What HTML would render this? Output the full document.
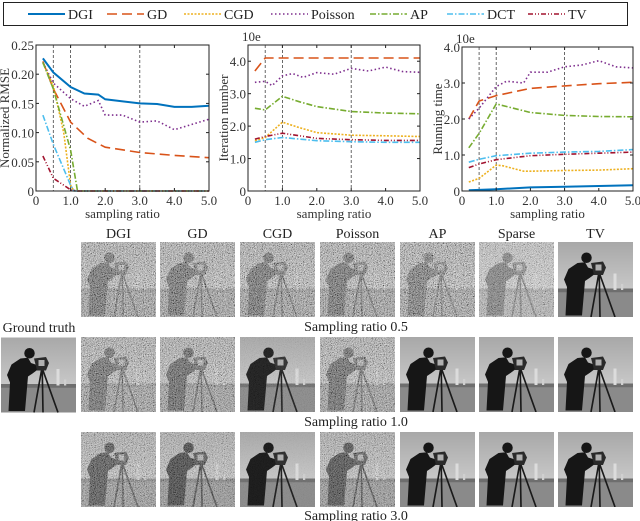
<!DOCTYPE html>
<html><head><meta charset="utf-8">
<style>
body{margin:0;background:#fff;}
svg{display:block;font-family:'Liberation Serif','DejaVu Serif',serif;}
</style></head>
<body>
<svg id="fig" width="640" height="521" viewBox="0 0 640 521" xmlns="http://www.w3.org/2000/svg">
<defs>
<filter id="noise" x="0" y="0" width="100%" height="100%">
<feTurbulence type="fractalNoise" baseFrequency="1.1" numOctaves="2" seed="3"/>
<feColorMatrix type="matrix" values="0.33 0.33 0.33 0 0 0.33 0.33 0.33 0 0 0.33 0.33 0.33 0 0 0 0 0 0 1"/>
<feComponentTransfer><feFuncR type="linear" slope="3" intercept="-1.0"/><feFuncG type="linear" slope="3" intercept="-1.0"/><feFuncB type="linear" slope="3" intercept="-1.0"/></feComponentTransfer>
</filter>
<linearGradient id="sky" x1="0" y1="0" x2="0" y2="1"><stop offset="0" stop-color="#a8a8a8"/><stop offset="1" stop-color="#c8c8c8"/></linearGradient>
<symbol id="cam" viewBox="0 0 100 100">
<rect width="100" height="64" fill="url(#sky)"/>
<rect y="62" width="100" height="38" fill="#8a8a8a"/>
<rect y="62" width="100" height="5" fill="#6e6e6e"/>
<rect x="74" y="42" width="4" height="22" fill="#dcdcdc"/>
<rect x="84" y="56" width="3" height="8" fill="#d0d0d0"/>
<path d="M10 98 L12 60 L8 50 L14 36 L26 28 L36 27 L40 34 L46 36 L50 42 L42 48 L36 52 L32 98 Z" fill="#161616"/>
<circle cx="38" cy="21" r="7" fill="#161616"/>
<path d="M44 28 L60 26 L64 34 L60 44 L48 44 Z" fill="#2a2a2a"/>
<rect x="50" y="30" width="8" height="8" fill="#b0b0b0"/>
<path d="M54 44 L44 100 M55 44 L56 100 M56 44 L76 100" stroke="#1a1a1a" stroke-width="2.2" fill="none"/>
</symbol>
</defs>
<g id="charts"></g>
<g id="imgs"></g>
</svg>
<script>
const NS='http://www.w3.org/2000/svg';
const svg=document.getElementById('fig');
const chartsG=document.getElementById('charts');
const imgsG=document.getElementById('imgs');
function mk(tag,attrs,parent){const e=document.createElementNS(NS,tag);for(const k in attrs)e.setAttribute(k,attrs[k]);(parent||svg).appendChild(e);return e;}

// ---- data ----
const seriesNames=['DGI','GD','CGD','Poisson','AP','DCT','TV'];
const colors={DGI:'#0072BD',GD:'#D95319',CGD:'#EDB120',Poisson:'#7E2F8E',AP:'#77AC30',DCT:'#4DBEEE',TV:'#A2142F'};
const dashes={DGI:'',GD:'10,5',CGD:'2,1.5',Poisson:'1.5,2.5',AP:'6,2,1.5,2',DCT:'6,2,1.5,2',TV:'5,2,1,2,1,2'};
const xTickVals=[0,1,2,3,4,5];
const xTickLabels=['0','1.0','2.0','3.0','4.0','5.0'];
const vLines=[0.5,1,3];

const rmseX={DGI:[0.2,0.5,1,1.4,1.8,2,3,3.5,4,4.5,5],GD:[0.2,0.5,1,1.5,2,3,4,5],CGD:[0.2,0.5,0.8,1.0,1.1,5],Poisson:[0.2,0.5,1,1.4,1.8,2,2.5,3,3.5,4,5],AP:[0.2,0.5,1.0,1.2,5],DCT:[0.2,0.5,1.0,1.1,5],TV:[0.2,0.5,1,1.2,5]};
const rmseY={DGI:[0.227,0.203,0.178,0.167,0.165,0.157,0.150,0.149,0.144,0.144,0.146],GD:[0.222,0.175,0.118,0.090,0.075,0.066,0.061,0.057],CGD:[0.22,0.18,0.1,0.01,0,0],Poisson:[0.22,0.185,0.158,0.145,0.155,0.130,0.130,0.118,0.12,0.105,0.123],AP:[0.22,0.175,0.07,0,0],DCT:[0.13,0.08,0.01,0,0],TV:[0.06,0.022,0.002,0,0]};
const rmseTicks=[0,0.05,0.1,0.15,0.2,0.25];
const rmseTickLabels=['0','0.05','0.10','0.15','0.20','0.25'];

const iterX={GD:[0.2,0.5,1,2,3,4,5],Poisson:[0.2,0.5,0.7,1,1.3,1.6,2,2.5,3,3.5,4,4.5,5],AP:[0.2,0.5,1,1.5,2,3,4,5],CGD:[0.2,0.5,1,1.5,2,3,4,5],TV:[0.2,0.5,1,2,3,4,5],DCT:[0.2,0.5,1,2,3,4,5]};
const iterY={GD:[3.7,4.1,4.1,4.1,4.1,4.1,4.1],Poisson:[3.35,3.38,3.25,3.55,3.62,3.5,3.65,3.6,3.78,3.7,3.82,3.68,3.66],AP:[2.55,2.5,2.92,2.75,2.6,2.45,2.4,2.38],CGD:[1.55,1.65,2.12,1.95,1.8,1.72,1.7,1.68],TV:[1.6,1.68,1.78,1.62,1.58,1.56,1.56],DCT:[1.5,1.58,1.65,1.55,1.52,1.5,1.5]};
const iterTicks=[0,1,2,3,4];
const iterTickLabels=['0','1.0','2.0','3.0','4.0'];

const timeX={Poisson:[0.2,0.5,1,1.3,1.8,2,2.5,3,3.5,4,4.5,5],GD:[0.2,0.5,1,2,3,4,5],AP:[0.2,0.5,1,1.5,2,3,4,5],DCT:[0.2,0.5,1,2,3,4,5],TV:[0.2,0.5,1,2,3,4,5],CGD:[0.2,0.5,1,1.2,1.8,2,3,4,5],DGI:[0.2,1,2,3,4,5]};
const timeY={Poisson:[2.0,2.3,2.9,3.05,3.0,3.3,3.3,3.45,3.5,3.62,3.45,3.42],GD:[2.0,2.5,2.65,2.85,2.92,2.98,3.02],AP:[1.2,1.6,2.42,2.3,2.18,2.1,2.07,2.06],DCT:[0.8,0.88,0.98,1.05,1.08,1.1,1.15],TV:[0.65,0.75,0.87,0.98,1.02,1.05,1.08],CGD:[0.25,0.35,0.72,0.7,0.55,0.55,0.57,0.58,0.62],DGI:[0.02,0.05,0.1,0.12,0.14,0.16]};
const timeTicks=[0,1,2,3,4];
const timeTickLabels=['0','1.0','2.0','3.0','4.0'];

function drawChart(name,x0,x1,y0,y1,ymax,X,Y,yt,ytl,ylabel,exp){
  const g=mk('g',{},chartsG);
  
  
  const sx=v=>x0+(x1-x0)*v/5, sy=v=>y0-(y0-y1)*v/ymax;
  vLines.forEach(v=>{const l=mk('line',{x1:sx(v),x2:sx(v),y1:y1,y2:y0,stroke:'#444','stroke-width':0.8,'stroke-dasharray':'3,2'},g);
    });
  seriesNames.forEach(s=>{if(!X[s])return;
    const d=X[s].map((v,i)=>(i?'L':'M')+sx(v).toFixed(1)+' '+sy(Y[s][i]).toFixed(1)).join(' ');
    const p=mk('path',{d:d,fill:'none',stroke:colors[s],'stroke-width':s==='DGI'?2:1.6,'stroke-dasharray':dashes[s]},g);
    });
  const fr=mk('rect',{x:x0,y:y1,width:x1-x0,height:y0-y1,fill:'none',stroke:'#222','stroke-width':1},g);
  
  xTickVals.forEach((v,i)=>{mk('line',{x1:sx(v),x2:sx(v),y1:y0,y2:y0-3,stroke:'#222'},g);mk('line',{x1:sx(v),x2:sx(v),y1:y1,y2:y1+3,stroke:'#222'},g);
    const t=mk('text',{x:sx(v),y:y0+14,'text-anchor':'middle','font-size':13,fill:'#333'},g);t.textContent=xTickLabels[i];
    });
  yt.forEach((v,i)=>{mk('line',{x1:x0,x2:x0+3,y1:sy(v),y2:sy(v),stroke:'#222'},g);mk('line',{x1:x1,x2:x1-3,y1:sy(v),y2:sy(v),stroke:'#222'},g);
    const t=mk('text',{x:x0-2,y:sy(v)+5,'text-anchor':'end','font-size':13,fill:'#333'},g);t.textContent=ytl[i];
    });
  const xl=mk('text',{x:(x0+x1)/2,y:y0+27,'text-anchor':'middle','font-size':13,fill:'#333'},g);xl.textContent='sampling ratio';
  
  const yl=mk('text',{x:0,y:0,'text-anchor':'middle','font-size':13,fill:'#333',transform:`translate(${x0-(name==='rmse-chart'?27:20)},${(y0+y1)/2}) rotate(-90)`},g);yl.textContent=ylabel;
  
  if(exp){const e=mk('text',{x:x0-6,y:y1-4,'font-size':13,fill:'#333'},g);e.textContent='10e';
    }
}
drawChart('rmse-chart',36,209,191,45,0.25,rmseX,rmseY,rmseTicks,rmseTickLabels,'Normalized RMSE',false);
drawChart('iteration-chart',248,420,191,45,4.5,iterX,iterY,iterTicks,iterTickLabels,'Iteration number',true);
drawChart('time-chart',462,633,191,47,4,timeX,timeY,timeTicks,timeTickLabels,'Running time',true);

// legend
const lg=mk('g',{},chartsG);


mk('rect',{x:3.5,y:2.5,width:624,height:23,fill:'#fff',stroke:'#222','stroke-width':1},lg);
const legX=[28,107,184,271,370,447,528];
seriesNames.forEach((s,i)=>{
  const e=mk('g',{},lg);
  
  
  mk('line',{x1:legX[i],x2:legX[i]+37,y1:14,y2:14,stroke:colors[s],'stroke-width':s==='DGI'?2:1.6,'stroke-dasharray':dashes[s]},e);
  const t=mk('text',{x:legX[i]+40,y:19,'font-size':14,fill:'#222'},e);t.textContent=s;
});

// images
const colX=[81,160,240,320,400,479,558];
const colT=['DGI','GD','CGD','Poisson','AP','Sparse','TV'];
const rowY=[242,337,432];
const noiseLv=[[0.7,0.7,0.7,0.7,0.75,0.5,0],[0.68,0.64,0.1,0.66,0,0,0],[0.55,0.45,0.05,0.5,0,0,0]];
colT.forEach((t,i)=>{const e=mk('text',{x:colX[i]+37.5,y:238,'text-anchor':'middle','font-size':14,fill:'#222'},imgsG);e.textContent=t;
  });
function cell(x,y,n,light){
  const g=mk('g',{},imgsG);
  
  
  mk('use',{href:'#cam',x:x,y:y,width:75,height:75},g);
  if(light)mk('rect',{x:x,y:y,width:75,height:75,fill:'#fff',opacity:0.35},g);
  if(n>0)mk('rect',{x:x,y:y,width:75,height:75,filter:'url(#noise)',opacity:n},g);
}
rowY.forEach((y,r)=>colX.forEach((x,c)=>cell(x,y,noiseLv[r][c],r===0&&c===5)));
const gt=mk('g',{},imgsG);


mk('use',{href:'#cam',x:1,y:337,width:75,height:76},gt);
const gtl=mk('text',{x:39,y:332,'text-anchor':'middle','font-size':14,fill:'#222'},imgsG);gtl.textContent='Ground truth';


['Sampling ratio 0.5','Sampling ratio 1.0','Sampling ratio 3.0'].forEach((s,i)=>{
  const t=mk('text',{x:356,y:[331,426,520][i],'text-anchor':'middle','font-size':14,fill:'#222'},imgsG);t.textContent=s;
  
  
});
</script>
</body></html>
